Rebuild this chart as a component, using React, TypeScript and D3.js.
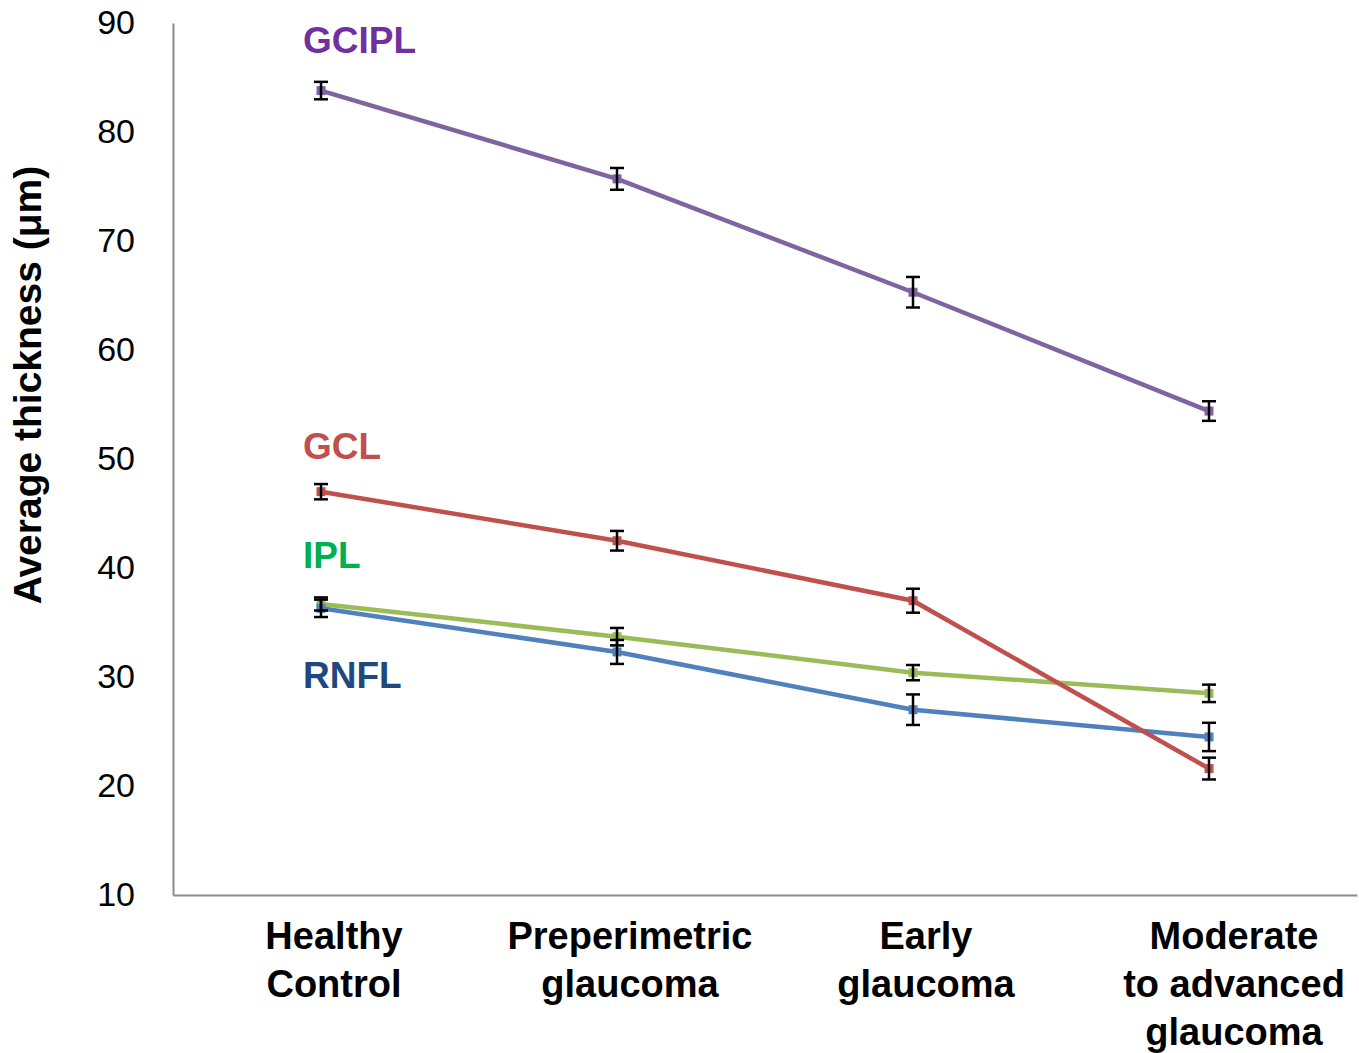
import React, { useEffect, useRef } from 'react';
import * as d3 from 'd3';

// categories (x axis), each label split into lines
const groups = ['Healthy Control', 'Preperimetric glaucoma', 'Early glaucoma', 'Moderate to advanced glaucoma'];
const groupLines = [
  ['Healthy', 'Control'],
  ['Preperimetric', 'glaucoma'],
  ['Early', 'glaucoma'],
  ['Moderate', 'to advanced', 'glaucoma'],
];

// mean thickness (µm) and error (±) per layer
const gcipl = [83.8, 75.7, 65.3, 54.4];
const gciplErr = [0.8, 1.0, 1.4, 0.9];
const gcl = [47.0, 42.5, 37.0, 21.6];
const gclErr = [0.7, 0.9, 1.1, 1.0];
const ipl = [36.7, 33.7, 30.4, 28.5];
const iplErr = [0.6, 0.8, 0.7, 0.8];
const rnfl = [36.3, 32.3, 27.0, 24.5];
const rnflErr = [0.8, 1.1, 1.4, 1.3];

const yTicks = [10, 20, 30, 40, 50, 60, 70, 80, 90];

// where the series names sit (in axis units)
const seriesNames = ['GCIPL', 'GCL', 'IPL', 'RNFL'];
const nameAt = [88.5, 51.2, 41.2, 30.2];

const App = () => {
  const svgRef = useRef<SVGSVGElement>(null);

  useEffect(() => {
    const svg = d3.select(svgRef.current);
    svg.selectAll('*').remove();

    const W = 1359;
    const H = 1053;
    const left = 173;
    const right = 1357;
    const top = 23;
    const bottom = 895;
    const font = 'Arial, "Liberation Sans", sans-serif';

    const x = d3.scaleBand().domain(groups).range([left, right]);
    const y = d3.scaleLinear().domain([10, 90]).range([bottom, top]);
    const cx = (i: number) => (x(groups[i]) as number) + x.bandwidth() / 2;

    svg.attr('width', W).attr('height', H);

    // axes (plain grey lines, no tick marks)
    const gy = svg.append('g').attr('transform', `translate(${left},0)`);
    gy.call(d3.axisLeft(y).tickValues(yTicks).tickSize(0).tickPadding(38));
    gy.select('.domain').attr('stroke', '#8c8c8c').attr('stroke-width', 2);
    gy.selectAll('text')
      .attr('font-family', font)
      .attr('font-size', 34)
      .attr('fill', '#000');

    const gx = svg.append('g').attr('transform', `translate(0,${bottom})`);
    gx.call(d3.axisBottom(x).tickSize(0).tickFormat(() => ''));
    gx.select('.domain').attr('stroke', '#8c8c8c').attr('stroke-width', 2);

    // category labels
    groupLines.forEach((lines, i) => {
      const lx = cx(i) + (i === 3 ? 25 : 13);
      const t = svg
        .append('text')
        .attr('x', lx)
        .attr('y', bottom + 54)
        .attr('text-anchor', 'middle')
        .attr('font-family', font)
        .attr('font-weight', 'bold')
        .attr('font-size', 38)
        .attr('fill', '#000');
      lines.forEach((l, j) => {
        t.append('tspan')
          .attr('x', lx)
          .attr('dy', j === 0 ? 0 : 48)
          .text(l);
      });
    });

    // y axis title
    svg
      .append('text')
      .attr('transform', `translate(41,${(165 + 605) / 2}) rotate(-90)`)
      .attr('text-anchor', 'middle')
      .attr('font-family', font)
      .attr('font-weight', 'bold')
      .attr('font-size', 39)
      .attr('fill', '#000')
      .text('Average thickness (μm)');

    const series = [
      { vals: ipl, err: iplErr, color: '#9BBB59' },
      { vals: rnfl, err: rnflErr, color: '#4F81BD' },
      { vals: gcl, err: gclErr, color: '#C0504D' },
      { vals: gcipl, err: gciplErr, color: '#8064A2' },
    ];

    const lineGen = d3
      .line<number>()
      .x((d, i) => cx(i))
      .y((d) => y(d));

    series.forEach((s) => {
      svg
        .append('path')
        .attr('d', lineGen(s.vals))
        .attr('fill', 'none')
        .attr('stroke', s.color)
        .attr('stroke-width', 4.5);
      svg
        .selectAll(null)
        .data(s.vals)
        .join('rect')
        .attr('x', (d, i) => cx(i) - 4.5)
        .attr('y', (d) => y(d) - 4.5)
        .attr('width', 9)
        .attr('height', 9)
        .attr('fill', s.color);
    });

    // error bars on top
    series.forEach((s) => {
      const g = svg.append('g').attr('stroke', '#000').attr('stroke-width', 2.5);
      s.vals.forEach((v, i) => {
        const x0 = cx(i);
        const y1 = y(v + s.err[i]);
        const y2 = y(v - s.err[i]);
        g.append('line').attr('x1', x0).attr('x2', x0).attr('y1', y1).attr('y2', y2);
        g.append('line').attr('x1', x0 - 7).attr('x2', x0 + 7).attr('y1', y1).attr('y2', y1);
        g.append('line').attr('x1', x0 - 7).attr('x2', x0 + 7).attr('y1', y2).attr('y2', y2);
      });
    });

    // series names
    const nameColors = ['#7030A0', '#C0504D', '#00B050', '#1F497D'];
    seriesNames.forEach((n, i) => {
      svg
        .append('text')
        .attr('x', cx(0) - 18)
        .attr('y', y(nameAt[i]))
        .attr('dy', '0.36em')
        .attr('font-family', font)
        .attr('font-weight', 'bold')
        .attr('font-size', 37)
        .attr('fill', nameColors[i])
        .text(n);
    });
  }, []);

  return (
    <div style={{ position: 'absolute', left: 0, top: 0, background: '#fff' }}>
      <svg ref={svgRef} style={{ display: 'block' }} />
    </div>
  );
};

export default App;
